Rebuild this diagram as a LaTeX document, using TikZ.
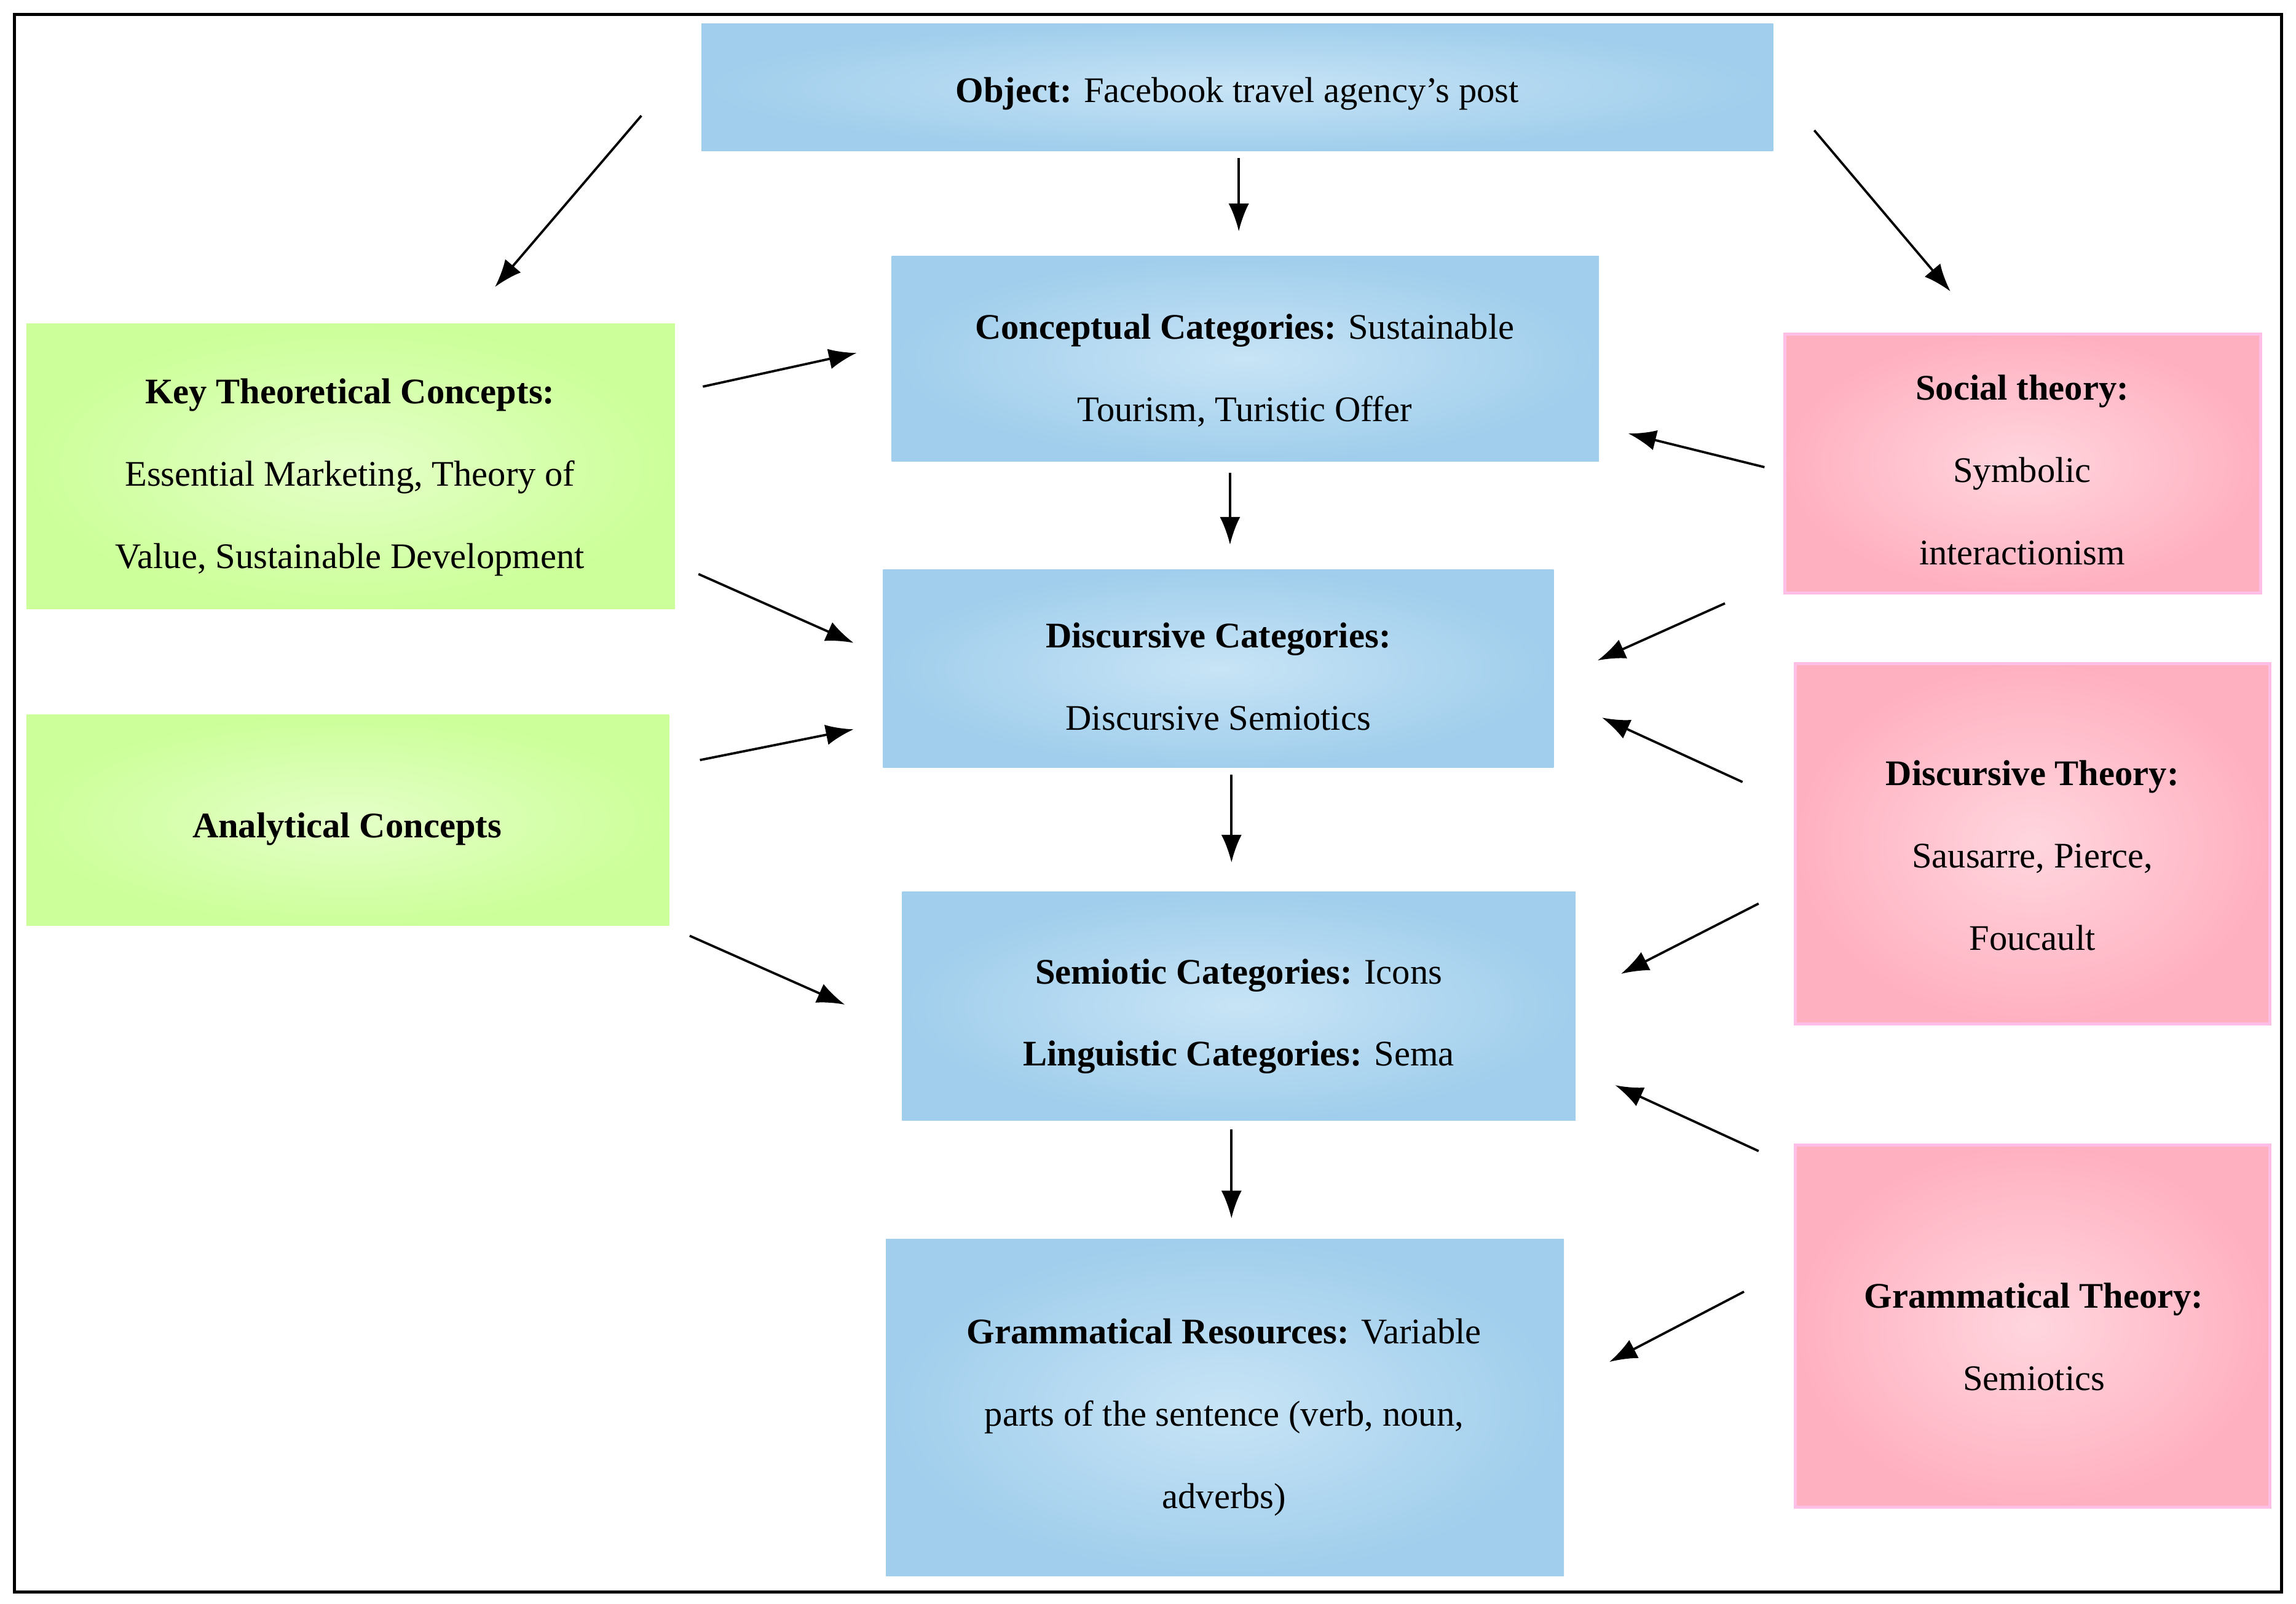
\documentclass[tikz,border=0pt]{standalone}
\usepackage{fontspec}
\setmainfont{Liberation Serif}
\usetikzlibrary{arrows.meta}
\definecolor{bl}{RGB}{160,206,236}
\definecolor{blin}{RGB}{200,228,246}
\definecolor{gr}{RGB}{204,255,153}
\definecolor{grin}{RGB}{228,255,200}
\definecolor{pk}{RGB}{255,176,192}
\definecolor{pkin}{RGB}{255,214,222}
\definecolor{pkb}{RGB}{255,190,230}
\begin{document}
\begin{tikzpicture}[x=0.02cm,y=-0.02cm,
  box/.style={inner sep=0pt,draw=none},
  blue/.style={box,inner color=blin,outer color=bl},
  green/.style={box,inner color=grin,outer color=gr},
  pink/.style={box,inner color=pkin,outer color=pk,draw=pkb,line width=1.2pt},
  txt/.style={align=center,font=\fontsize{14}{32}\selectfont},
  arr/.style={-{Latex[length=0.38cm,width=0.28cm]},line width=0.9pt}]
\useasboundingbox (0,0) rectangle (1568,1095);
\draw[line width=1.2pt] (10,10) rectangle (1558,1087);
\path[blue] (479,16) rectangle (1211,103);
\path[blue] (609,175) rectangle (1092,315);
\path[blue] (603,389) rectangle (1061,524);
\path[blue] (616,609) rectangle (1076,765);
\path[blue] (605,846) rectangle (1068,1076);
\path[green] (18,221) rectangle (461,416);
\path[green] (18,488) rectangle (457,632);
\path[pink] (1219,228) rectangle (1544,405);
\path[pink] (1226,453) rectangle (1550,699);
\path[pink] (1226,782) rectangle (1550,1029);
\node[txt] (obj) at (845,64) {\textbf{Object:} Facebook travel agency's post};
\node[txt] (con) at (850,253) {\textbf{Conceptual Categories:} Sustainable\\Tourism, Turistic Offer};
\node[txt] (dis) at (832,462) {\textbf{Discursive Categories:}\\Discursive Semiotics};
\node[txt] (sem) at (846,694) {\textbf{Semiotic Categories:} Icons\\\textbf{Linguistic Categories:} Sema};
\node[txt] (gra) at (836,968) {\textbf{Grammatical Resources:} Variable\\parts of the sentence (verb, noun,\\adverbs)};
\node[txt] (key) at (239,326) {\textbf{Key Theoretical Concepts:}\\Essential Marketing, Theory of\\Value, Sustainable Development};
\node[txt] (ana) at (237,566) {\textbf{Analytical Concepts}};
\node[txt] (soc) at (1381,321) {\textbf{Social theory:}\\Symbolic\\interactionism};
\node[txt] (dth) at (1388,584) {\textbf{Discursive Theory:}\\Sausarre, Pierce,\\Foucault};
\node[txt] (gth) at (1389,913) {\textbf{Grammatical Theory:}\\Semiotics};
\foreach \n/\a/\b/\c/\d in {a1/438/79/338/196, a2/846/108/846/158, a3/1239/89/1332/199,
 a4/480/264/585/241, a5/477/392/583/439, a6/478/519/583/498, a7/471/639/577/686,
 a8/1205/319/1112/296, a9/1178/412/1091/451, a10/1190/534/1094/490, a11/1201/617/1107/665,
 a12/1201/786/1103/741, a13/1191/882/1099/930, a14/840/323/840/372, a15/841/529/841/589,
 a16/841/771/841/832}{
 \coordinate (\n s) at (\a,\b); \coordinate (\n e) at (\c,\d);
 \draw[arr] (\n s) -- (\n e);}
\end{tikzpicture}
\end{document}
